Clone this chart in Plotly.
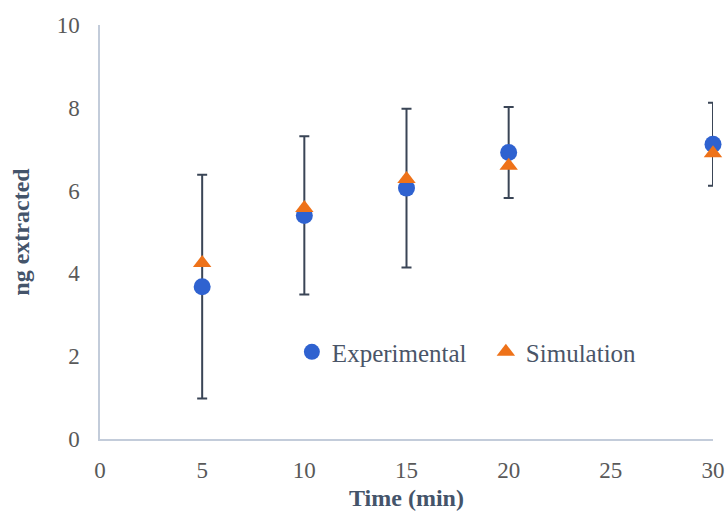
import plotly.graph_objects as go

# Extraction time (min)
time_min = [5, 10, 15, 20, 30]

# Measured amount extracted (ng) and its error (±)
experimental = [3.68, 5.40, 6.06, 6.92, 7.12]
experimental_err = [2.70, 1.91, 1.92, 1.10, 1.00]

# Model prediction (ng)
simulation = [4.25, 5.58, 6.28, 6.60, 6.90]

x_ticks = [0, 5, 10, 15, 20, 25, 30]
y_ticks = [0, 2, 4, 6, 8, 10]

serif = "Liberation Serif, Times New Roman, serif"
tick_color = "#595959"
title_color = "#44546A"
axis_line = "#C3CCDA"

fig = go.Figure()

fig.add_trace(go.Scatter(
    x=time_min, y=experimental, mode="markers", name="Experimental",
    marker=dict(symbol="circle", size=17, color="#2F62D0"),
    error_y=dict(type="data", array=experimental_err, visible=True,
                 color="#3A4556", thickness=2, width=5),
    cliponaxis=False,
))

fig.add_trace(go.Scatter(
    x=time_min, y=simulation, mode="markers", name="Simulation",
    marker=dict(symbol="triangle-up", size=16, color="#EE7219"),
    cliponaxis=False,
))

fig.update_layout(
    width=727, height=514,
    margin=dict(l=100, r=14, t=25, b=75),
    plot_bgcolor="white", paper_bgcolor="white",
    font=dict(family=serif, size=23, color=tick_color),
    showlegend=True,
    legend=dict(
        orientation="h", x=0.313, y=0.21, xanchor="left", yanchor="middle",
        font=dict(family=serif, size=25, color="#4A5568"),
        bgcolor="rgba(0,0,0,0)", itemwidth=30, entrywidth=149,
        entrywidthmode="pixels",
    ),
    xaxis=dict(
        range=[0, 30], tickvals=x_ticks, showgrid=False, zeroline=False,
        showline=True, linecolor=axis_line, linewidth=1.5, ticks="",
        ticklabelstandoff=10, automargin=False,
        tickfont=dict(family=serif, size=23, color=tick_color),
        title=dict(text="<b>Time (min)</b>", standoff=7,
                   font=dict(family=serif, size=24, color=title_color)),
    ),
    yaxis=dict(
        range=[0, 10], tickvals=y_ticks, showgrid=False, zeroline=False,
        showline=True, linecolor=axis_line, linewidth=1.5, ticks="",
        ticklabelstandoff=14, automargin=False,
        tickfont=dict(family=serif, size=23, color=tick_color),
        title=dict(text="<b>ng extracted</b>", standoff=20,
                   font=dict(family=serif, size=24, color=title_color)),
    ),
)

fig.write_html("out.html")
